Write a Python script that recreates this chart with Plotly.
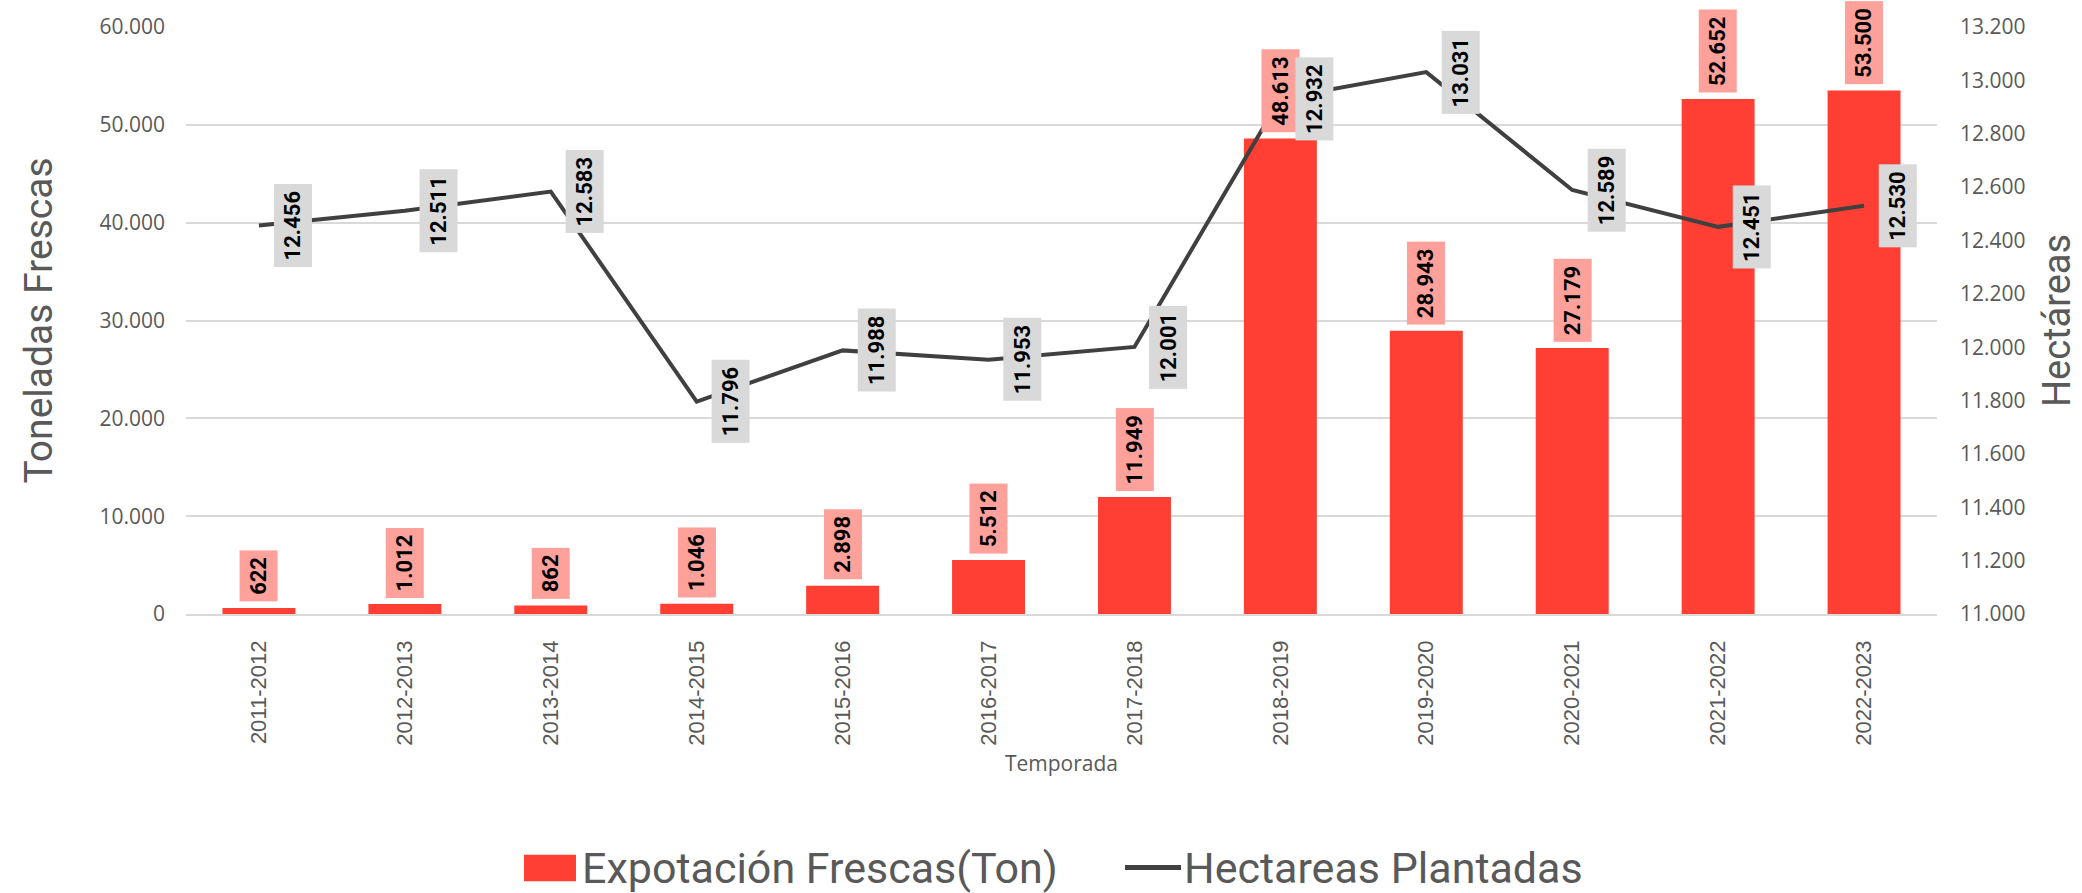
import plotly.graph_objects as go

# ---------------- data ----------------
temporadas = ["2011-2012", "2012-2013", "2013-2014", "2014-2015", "2015-2016", "2016-2017",
              "2017-2018", "2018-2019", "2019-2020", "2020-2021", "2021-2022", "2022-2023"]
exportacion_ton = [622, 1012, 862, 1046, 2898, 5512, 11949, 48613, 28943, 27179, 52652, 53500]
hectareas = [12456, 12511, 12583, 11796, 11988, 11953, 12001, 12932, 13031, 12589, 12451, 12530]

left_ticks = [0, 10000, 20000, 30000, 40000, 50000, 60000]
right_ticks = [11000, 11200, 11400, 11600, 11800, 12000, 12200, 12400, 12600, 12800, 13000, 13200]

serie_barras = "Expotación Frescas(Ton)"
serie_linea = "Hectareas Plantadas"

# ---------------- styles ----------------
W, H = 2082, 893
ML, MR, MT, MB = 186, 145, 19, 279
BAR_RED = "#FF3F34"
BAR_LABEL_BG = "#FFA19B"
LINE_COL = "#404040"
LINE_LABEL_BG = "#D9D9D9"
GRID = "#D9D9D9"
TXT = "#595959"
LABEL_FONT = dict(family="Roboto", size=22, color="black", weight="bold")


def fmt(v):
    return f"{v:,}".replace(",", ".")


fig = go.Figure()
fig.add_trace(go.Bar(x=temporadas, y=exportacion_ton, name=serie_barras,
                     marker=dict(color=BAR_RED, line=dict(width=0)), width=0.5,
                     showlegend=False, yaxis="y"))
fig.add_trace(go.Scatter(x=temporadas, y=hectareas, name=serie_linea, mode="lines",
                         line=dict(color=LINE_COL, width=4), showlegend=False, yaxis="y2"))

annotations = []
for cat, v in zip(temporadas, exportacion_ton):
    annotations.append(dict(x=cat, y=v, xref="x", yref="y", text=fmt(v), textangle=-90,
                            showarrow=False, xanchor="center", yanchor="bottom", yshift=6,
                            bgcolor=BAR_LABEL_BG, borderpad=6, font=LABEL_FONT))
for cat, v in zip(temporadas, hectareas):
    annotations.append(dict(x=cat, y=v, xref="x", yref="y2", text=fmt(v), textangle=-90,
                            showarrow=False, xanchor="center", yanchor="middle", xshift=34,
                            bgcolor=LINE_LABEL_BG, borderpad=6, font=LABEL_FONT))

# manual legend (below the plot)
pw, ph = W - ML - MR, H - MT - MB


def px(xp):
    return (xp - ML) / pw


def py(yp):
    return (H - MB - yp) / ph


legend_y = 871
shapes = [
    dict(type="rect", xref="paper", yref="paper", x0=px(524), x1=px(576), y0=py(885), y1=py(858),
         fillcolor=BAR_RED, line=dict(width=0)),
    dict(type="line", xref="paper", yref="paper", x0=px(1125), x1=px(1181), y0=py(legend_y), y1=py(legend_y),
         line=dict(color=LINE_COL, width=5)),
]
annotations.append(dict(x=px(580), y=py(legend_y), xref="paper", yref="paper", text=serie_barras,
                        showarrow=False, xanchor="left", yanchor="middle",
                        font=dict(family="Roboto", size=43, color=TXT)))
annotations.append(dict(x=px(1182), y=py(legend_y), xref="paper", yref="paper", text=serie_linea,
                        showarrow=False, xanchor="left", yanchor="middle",
                        font=dict(family="Roboto", size=43, color=TXT)))

fig.update_layout(
    width=W, height=H,
    margin=dict(l=ML, r=MR, t=MT, b=MB, pad=0),
    plot_bgcolor="white", paper_bgcolor="white",
    separators=",.",
    showlegend=False,
    bargap=0.5,
    xaxis=dict(type="category", categoryorder="array", categoryarray=temporadas,
               tickangle=-90, tickfont=dict(family="Liberation Sans", size=22, color=TXT),
               ticks="", ticklabelstandoff=16, showgrid=False, showline=True,
               linecolor=GRID, linewidth=1.5, zeroline=False,
               title=dict(text="Temporada", font=dict(family="Open Sans", size=21, color=TXT), standoff=12)),
    yaxis=dict(range=[0, 60000], tickvals=left_ticks, ticktext=[fmt(v) for v in left_ticks],
               tickfont=dict(family="Open Sans", size=21, color=TXT), ticks="", ticklabelstandoff=20,
               showgrid=True, gridcolor=GRID, gridwidth=1.5, zeroline=False, showline=False,
               title=dict(text="Toneladas Frescas", font=dict(family="Roboto", size=39, color=TXT), standoff=34)),
    yaxis2=dict(range=[11000, 13200], overlaying="y", side="right", tickvals=right_ticks,
                ticktext=[fmt(v) for v in right_ticks],
                tickfont=dict(family="Open Sans", size=21, color=TXT), ticks="", ticklabelstandoff=22,
                showgrid=False, zeroline=False, showline=False,
                title=dict(text="Hectáreas", font=dict(family="Roboto", size=38, color=TXT), standoff=18)),
    annotations=annotations,
    shapes=shapes,
)

fig.write_html("out.html", config={"displayModeBar": False},
               post_script="document.body.style.margin='0';document.body.style.overflow='hidden';")
